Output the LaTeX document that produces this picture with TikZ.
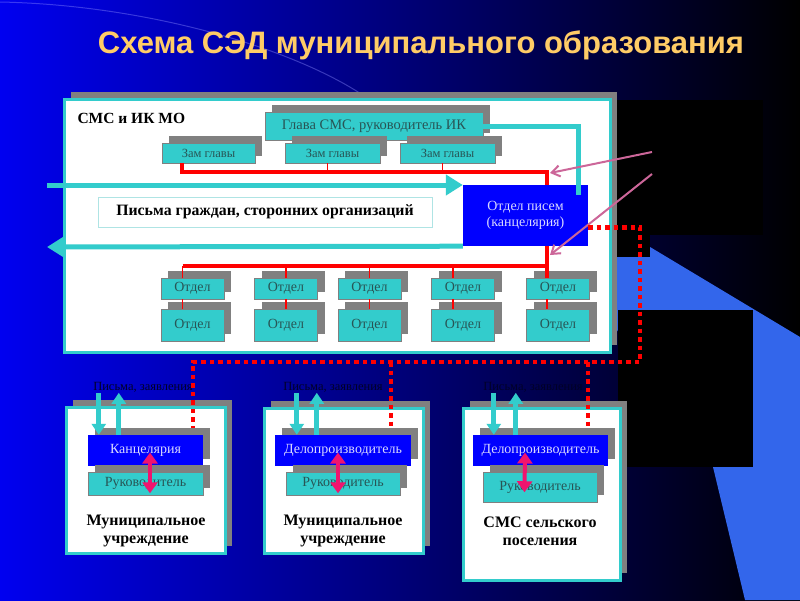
\documentclass[tikz,border=0pt]{standalone}
\usepackage{fontspec}
\setmainfont{Liberation Serif}
\newfontfamily\titlefont{Liberation Sans}
\usetikzlibrary{arrows.meta,shadows}

\definecolor{bgleft}{RGB}{0,0,240}
\definecolor{bgmid}{RGB}{0,0,110}
\definecolor{bglight}{RGB}{51,102,235}
\definecolor{boxcyan}{RGB}{51,204,204}
\definecolor{boxblue}{RGB}{0,0,255}
\definecolor{boxgray}{RGB}{128,128,128}
\definecolor{lineteal}{RGB}{51,204,204}
\definecolor{titleorange}{RGB}{255,204,102}
\definecolor{notepink}{RGB}{204,102,153}
\definecolor{linkpink}{RGB}{240,20,110}
\definecolor{textteal}{RGB}{40,85,85}

\tikzset{
  shadowed/.style={drop shadow={shadow xshift=7pt,shadow yshift=7pt,opacity=1,fill=boxgray}},
  panel/.style={shadowed, fill=white, draw=lineteal, line width=3pt},
  cyanbox/.style={shadowed, fill=boxcyan, draw=boxgray, line width=0.5pt, inner sep=0pt,
    text=textteal, font=\fontsize{14}{16}\selectfont},
  bluebox/.style={fill=boxblue, inner sep=0pt, text=white!85!blue,
    font=\fontsize{14}{16}\selectfont, align=center},
  unitname/.style={font=\bfseries\fontsize{16}{18}\selectfont, align=center},
  maillabel/.style={text={rgb,255:red,0;green,0;blue,40}, font=\fontsize{12.5}{14}\selectfont},
  redbus/.style={draw=red, line width=4pt},
  redlink/.style={draw=red, line width=1.5pt},
  reddots/.style={draw=red, line width=4.5pt, dash pattern=on 4.5pt off 4pt},
  mailflow/.style={draw=lineteal, line width=5pt},
  mailtip/.style={-{Triangle[width=20pt,length=17pt]}},
  unitflow/.style={draw=lineteal, line width=5pt, -{Triangle[width=14pt,length=11pt]}},
  linkflow/.style={draw=linkpink, line width=4pt,
    {Triangle[width=15pt,length=11pt]}-{Triangle[width=15pt,length=11pt]}},
  notearrow/.style={draw=notepink, line width=2pt, -{Straight Barb[width=11pt,length=8pt]}},
}

\begin{document}
\begin{tikzpicture}[x=1pt,y=-1pt]
\useasboundingbox (0,0) rectangle (800,600);
% background
\shade[left color=bgleft, middle color=bgmid, right color=black] (0,0) rectangle (800,600);
\draw[blue!45!white, opacity=0.4, line width=1pt] (0,2) .. controls (150,5) and (300,50) .. (370,100);
\fill[bglight] (617,257) -- (650,257) -- (650,247) -- (800,337) -- (800,600) -- (745,600) -- (713,467) -- (617,330) -- cycle;
\fill[black] (617,100) rectangle (763,235);
\fill[black] (617,235) rectangle (650,257);
\fill[black] (618,310) rectangle (753,467);

\node(title)[text=titleorange, font=\titlefont\bfseries\fontsize{31}{35}\selectfont] at (421,45)
  {Схема СЭД муниципального образования};

% main panel
\node(smc)[panel, minimum width=546pt, minimum height=253pt] at (337,225.5) {};
\node(smcname)[anchor=west, font=\bfseries\fontsize{15.5}{18}\selectfont] at (74,118) {СМС и ИК МО};

\node(glava)[cyanbox, minimum width=218pt, minimum height=28pt, font=\fontsize{14.5}{16}\selectfont] at (374,126) {Глава СМС, руководитель ИК};
\node(zam1)[cyanbox, minimum width=93pt, minimum height=20pt, font=\fontsize{12.5}{14}\selectfont] at (208.5,153) {Зам главы};
\node(zam2)[cyanbox, minimum width=95pt, minimum height=20pt, font=\fontsize{12.5}{14}\selectfont] at (332.5,153) {Зам главы};
\node(zam3)[cyanbox, minimum width=95pt, minimum height=20pt, font=\fontsize{12.5}{14}\selectfont] at (447.5,153) {Зам главы};

\node(otdelpisem)[bluebox, minimum width=125pt, minimum height=61pt] at (525.5,215.5) {Отдел писем\\(канцелярия)};

% upper bus
\coordinate(busA) at (547,172);
\coordinate(tapZ2) at ([xshift=-5pt]zam2.south);
\coordinate(tapZ3) at ([xshift=-5pt]zam3.south);
\draw[redbus] ([xshift=20pt]zam1.south west) |- (busA) -- (busA |- otdelpisem.north);
\draw[redlink] (tapZ2) -- (tapZ2 |- busA);
\draw[redlink] (tapZ3) -- (tapZ3 |- busA);

% letters in and out
\coordinate(mailIn) at (47,185);
\coordinate(mailOut) at (47,247);
\draw[mailflow, mailtip] (mailIn) -- (mailIn -| otdelpisem.west);
\draw[mailflow, mailtip] (otdelpisem.south west) -- (mailOut);
\draw[mailflow] (glava.east) -| ([xshift=-10pt,yshift=-10pt]otdelpisem.north east);

\node(pisma)[fill=white, draw={rgb,255:red,175;green,228;blue,228}, line width=1pt,
  minimum width=334pt, minimum height=30pt, font=\bfseries\fontsize{15.8}{18}\selectfont]
  at (265,212) {Письма граждан, сторонних организаций};

% departments
\coordinate(busB) at (547,266);
\foreach \n/\x/\dx in {1/192.5/-10, 2/286/0, 3/369.5/0, 4/463/-10, 5/558/-11}{
  \node(otdU\n)[cyanbox, minimum width=63pt, minimum height=21pt] at (\x,288.5) {Отдел};
  \node(otdL\n)[cyanbox, minimum width=63pt, minimum height=32pt] at (\x,325) {Отдел};
  \coordinate(tap\n) at ([xshift=\dx pt]otdU\n.north);
  \draw[redlink] (tap\n) -- (tap\n |- busB);
  \draw[redlink] ([xshift=\dx pt]otdU\n.south) -- ([xshift=\dx pt]otdL\n.north);
}
\draw[redbus] (tap1 |- busB) -- (busB);
\draw[redbus] (otdelpisem.south -| busB) -- (busB |- otdU5.north);

\coordinate(noteA) at (652,152);
\coordinate(noteB) at (652,174);
\draw[notearrow] (noteA) -- ([xshift=3pt,yshift=-1pt]busA);
\draw[notearrow] (noteB) -- ([xshift=3pt,yshift=11pt]busB);

% subordinate units
\node(unitA)[panel, minimum width=159pt, minimum height=146pt] at (145.5,480) {};
\node(unitB)[panel, minimum width=159pt, minimum height=145pt] at (343.5,480.5) {};
\node(unitC)[panel, minimum width=157pt, minimum height=172pt] at (541.5,494) {};

\node(kancA)[bluebox, shadowed, minimum width=115pt, minimum height=31pt] at (145.5,450.5) {Канцелярия};
\node(deloB)[bluebox, shadowed, minimum width=136pt, minimum height=31pt] at (343,450.5) {Делопроизводитель};
\node(deloC)[bluebox, shadowed, minimum width=135pt, minimum height=31pt] at (540.5,450.5) {Делопроизводитель};

\node(rukA)[cyanbox, minimum width=115pt, minimum height=23pt] at (145.5,483.5) {Руководитель};
\node(rukB)[cyanbox, minimum width=114pt, minimum height=23pt] at (343,483.5) {Руководитель};
\node(rukC)[cyanbox, minimum width=114pt, minimum height=30pt] at (540,487) {Руководитель};

\node(nameA)[unitname] at (146,531) {Муниципальное\\учреждение};
\node(nameB)[unitname] at (343,531) {Муниципальное\\учреждение};
\node(nameC)[unitname] at (540,531) {СМС сельского\\поселения};

\node(mailA)[maillabel] at (143,387) {Письма, заявления};
\node(mailB)[maillabel] at (333,387) {Письма, заявления};
\node(mailC)[maillabel] at (533,387) {Письма, заявления};

\draw[unitflow] ([xshift=11pt,yshift=42pt]kancA.north west) -- ([xshift=11pt]kancA.north west);
\draw[unitflow] ([xshift=31pt]kancA.north west) -- ([xshift=31pt,yshift=42pt]kancA.north west);
\draw[unitflow] ([xshift=22pt,yshift=42pt]deloB.north west) -- ([xshift=22pt]deloB.north west);
\draw[unitflow] ([xshift=42pt]deloB.north west) -- ([xshift=42pt,yshift=42pt]deloB.north west);
\draw[unitflow] ([xshift=21pt,yshift=42pt]deloC.north west) -- ([xshift=21pt]deloC.north west);
\draw[unitflow] ([xshift=43pt]deloC.north west) -- ([xshift=43pt,yshift=42pt]deloC.north west);

\draw[linkflow] ([xshift=4.5pt,yshift=-2pt]kancA.center) -- ([xshift=4.5pt,yshift=2pt]rukA.south);
\draw[linkflow] ([xshift=-5pt,yshift=-2pt]deloB.center) -- ([xshift=-5pt,yshift=2pt]rukB.south);
\draw[linkflow] ([xshift=-15.5pt,yshift=-2pt]deloC.center) -- ([xshift=-15.5pt,yshift=10pt]rukC.south);

% dotted links
\coordinate(dotCorner) at (640,362);
\coordinate(dotA) at ([xshift=-10pt,yshift=7pt]kancA.north east);
\coordinate(dotB) at ([xshift=-20pt,yshift=7pt]deloB.north east);
\coordinate(dotC) at ([xshift=-20pt,yshift=7pt]deloC.north east);
\draw[reddots] ([yshift=-12pt]otdelpisem.east) -| (dotCorner) -| (dotA);
\draw[reddots] (dotCorner -| dotB) -- (dotB);
\draw[reddots] (dotCorner -| dotC) -- (dotC);
\end{tikzpicture}
\end{document}
